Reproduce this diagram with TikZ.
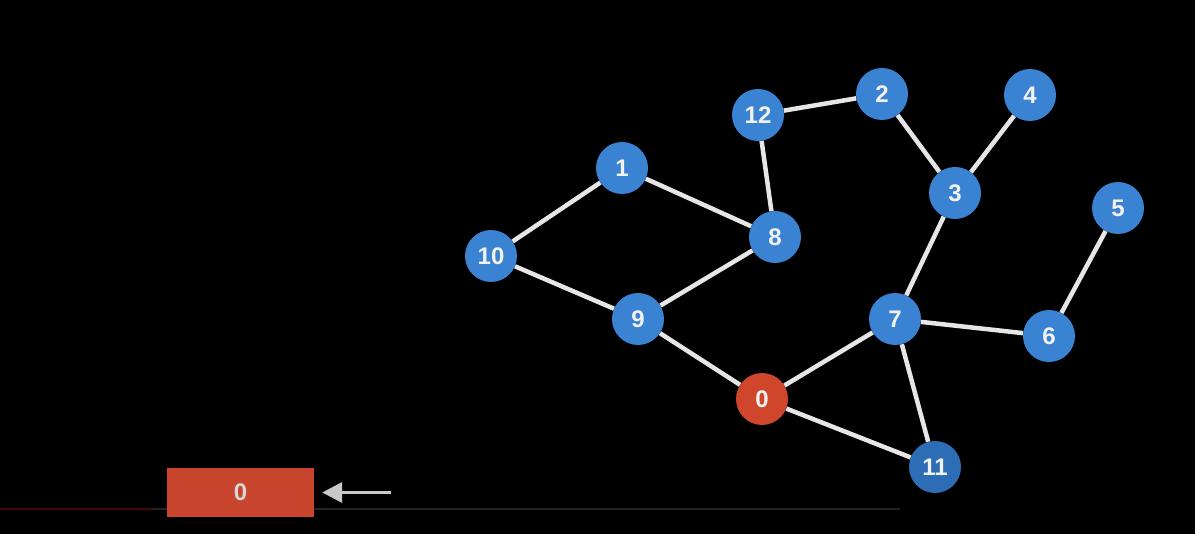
\documentclass[tikz,border=0pt]{standalone}
\usepackage{fontspec}
\setmainfont{Liberation Sans}
\usetikzlibrary{arrows.meta}
\definecolor{bgc}{HTML}{000000}
\definecolor{nodeblue}{HTML}{3A82D2}
\definecolor{nodeblue2}{HTML}{2D6DB5}
\definecolor{nodered}{HTML}{D0462C}
\definecolor{queuered}{HTML}{C8442C}
\definecolor{edgec}{HTML}{E6E6E6}
\definecolor{txtc}{HTML}{F2F2F2}
\definecolor{qtxt}{HTML}{D8D8D8}
\definecolor{arrc}{HTML}{C8C8C8}
\definecolor{baselinegray}{HTML}{222222}
\definecolor{baselinered}{HTML}{440808}
\tikzset{
  vert/.style={circle, fill=nodeblue, minimum size=52pt, inner sep=0pt, text=txtc, font=\fontsize{24}{24}\selectfont\bfseries},
  vertred/.style={vert, fill=nodered},
  edge/.style={draw=edgec, line width=4.5pt},
  qbox/.style={rectangle, fill=queuered, minimum width=147pt, minimum height=49pt, inner sep=0pt, text=qtxt, font=\fontsize{24}{24}\selectfont\bfseries},
}
\begin{document}
\begin{tikzpicture}[x=1pt,y=-1pt]
\fill[bgc] (0,0) rectangle (1195,534);
\useasboundingbox (0,0) rectangle (1195,534);
% base line
\coordinate (bl0) at (0,509);
\coordinate (bl1) at (152,509);
\coordinate (bl2) at (900,509);
\draw[baselinered, line width=2.5pt] (bl0) -- (bl1);
\draw[baselinegray, line width=2.5pt] (bl1) -- (bl2);
% queue
\node[qbox] (q0) at (240.5,492.5) {0};
\coordinate (arrs) at (391,492.5);
\draw[arrc, line width=3.5pt, shorten >=8pt, -{Triangle[length=20pt,width=20pt]}] (arrs) -- (q0.east);
% vertices
\node[vertred] (n0) at (762,399) {0};
\node[vert] (n1) at (622,168) {1};
\node[vert] (n2) at (882,94) {2};
\node[vert] (n3) at (955,193) {3};
\node[vert] (n4) at (1030,95) {4};
\node[vert] (n5) at (1118,208) {5};
\node[vert] (n6) at (1049,336) {6};
\node[vert] (n7) at (895,319) {7};
\node[vert] (n8) at (775,237) {8};
\node[vert] (n9) at (638,319) {9};
\node[vert] (n10) at (491,256) {10};
\node[vert, fill=nodeblue2] (n11) at (935,467) {11};
\node[vert] (n12) at (758,115) {12};
% edges
\draw[edge] (n10) -- (n1);
\draw[edge] (n1) -- (n8);
\draw[edge] (n10) -- (n9);
\draw[edge] (n9) -- (n8);
\draw[edge] (n8) -- (n12);
\draw[edge] (n12) -- (n2);
\draw[edge] (n2) -- (n3);
\draw[edge] (n4) -- (n3);
\draw[edge] (n3) -- (n7);
\draw[edge] (n9) -- (n0);
\draw[edge] (n0) -- (n7);
\draw[edge] (n0) -- (n11);
\draw[edge] (n7) -- (n11);
\draw[edge] (n7) -- (n6);
\draw[edge] (n6) -- (n5);
\end{tikzpicture}
\end{document}
